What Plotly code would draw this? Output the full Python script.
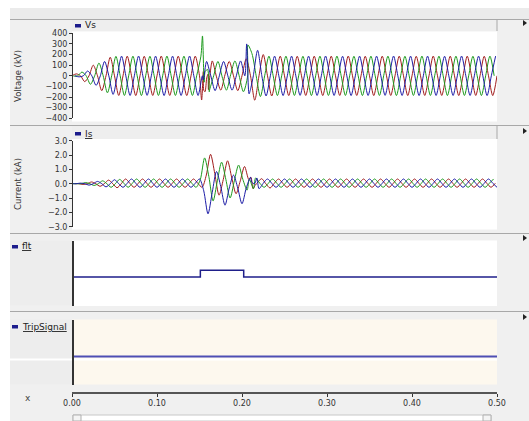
import numpy as np
import plotly.graph_objects as go

W, H = 529, 421

# ---------------- data ----------------
STEP = 0.005          # sample spacing (s), quarter period of 50 Hz
T0_VS = {"red": 0.0, "green": 0.001667, "blue": 0.003333}
T0_IS = {"red": 0.003, "green": 0.001, "blue": 0.0}

vs_red = [
    0, 18, 0, -55, 0, 100, 0, -140, 0, 175, 0, -185,
    0, 185, 0, -186, 0, 184, 0, -185, 0, 186, 0, -185, 0, 185, 0, -186,
    0, 185,
    0, -135, 15, 140, -10, -135, 10, 135, 0, -140,
    0, 160, 0, -230, 0, 200, 0, -190,
    0, 185, 0, -186, 0, 184, 0, -185,
    0, 185, 0, -186, 0, 185, 0, -185,
    0, 186, 0, -185, 0, 184, 0, -186,
    0, 185, 0, -185, 0, 185, 0, -186,
    0, 184, 0, -185, 0, 186, 0, -185,
    0, 185, 0, -186, 0, 185, 0, -185,
    0, 184, 0, -186,
    0,
]
vs_green = [
    -3, 0, 35, 0, -80, 0, 120, 0, -160, 0, 183, 0,
    -185, 0, 185, 0, -186, 0, 184, 0, -185, 0, 186, 0, -185, 0, 185, 0,
    -185, 0,
    185, 40, -140, 0, 135, -10, -135, 10, 140, 0,
    -150, 0, 210, 0, -195, 0, 185, 0,
    -186, 0, 185, 0, -185, 0, 184, 0,
    -186, 0, 185, 0, -185, 0, 186, 0,
    -185, 0, 184, 0, -186, 0, 185, 0,
    -185, 0, 185, 0, -186, 0, 184, 0,
    -185, 0, 186, 0, -185, 0, 185, 0,
    -186, 0, 185, 0, -185, 0, 184, 0,
    -186, 0, 185, 0,
]
vs_blue = [
    0, -10, 0, 45, 0, -90, 0, 135, 0, -175, 0, 185,
    0, -185, 0, 186, 0, -184, 0, 185, 0, -186, 0, 185, 0, -185, 0, 186,
    0, -185,
    0, 135, 0, -140, 0, 135, 0, -135, 0, 140,
    0, -170, 0, 240, 0, -190, 0, 185,
    0, -186, 0, 185, 0, -184, 0, 185,
    0, -185, 0, 186, 0, -185, 0, 184,
    0, -186, 0, 185, 0, -185, 0, 185,
    0, -184, 0, 186, 0, -185, 0, 185,
    0, -186, 0, 185, 0, -185, 0, 184,
    0, -185, 0, 186, 0, -185, 0, 185,
    0, -186, 0, 185,
]
# switching spikes / fault noise (time s, kV)
vs_spike_t = {
    "red": [0.1525, 0.1545, 0.1565, 0.1585, 0.1605, 0.1625],
    "green": [0.1535, 0.1555, 0.1595, 0.1615, 0.207],
    "blue": [0.1545, 0.1625, 0.2055, 0.2105],
}
vs_spike_v = {
    "red": [-228, 40, -150, -20, -130, 20],
    "green": [375, -60, 60, -150, 290],
    "blue": [-40, 20, 300, -110],
}

is_red = [
    0.0, 0, -0.05, 0, 0.12, 0, -0.18, 0, 0.25, 0, -0.28, 0,
    0.33, 0.03, -0.25, 0.03, 0.33, 0.03, -0.25, 0.03,
    0.33, 0.03, -0.25, 0.03, 0.33, 0.03, -0.25, 0.03,
    0.33, 0.03,
    -0.25, 0.6, 2.05, 0.7, -0.8, 0.3, 1.6, 0.4, -0.7, 0.2,
    1.2, 0.3, -0.35, 0.05, 0.35, 0.0, -0.3, 0.03,
    0.33, 0.03, -0.25, 0.03, 0.33, 0.03, -0.25, 0.03,
    0.33, 0.03, -0.25, 0.03, 0.33, 0.03, -0.25, 0.03,
    0.33, 0.03, -0.25, 0.03, 0.33, 0.03, -0.25, 0.03,
    0.33, 0.03, -0.25, 0.03, 0.33, 0.03, -0.25, 0.03,
    0.33, 0.03, -0.25, 0.03, 0.33, 0.03, -0.25, 0.03,
    0.33, 0.03, -0.25, 0.03, 0.33, 0.03, -0.25, 0.03,
    0.33, 0.03, -0.25, 0.03,
]
is_green = [
    0, 0.0, 0, 0.08, 0, -0.12, 0, 0.2, 0, -0.25, 0, 0.3,
    0.03, -0.25, 0.03, 0.33, 0.03, -0.25, 0.03, 0.33,
    0.03, -0.25, 0.03, 0.33, 0.03, -0.25, 0.03, 0.33,
    0.03, -0.25,
    0.3, 1.8, 0.5, -1.2, 0.2, 1.5, 0.3, -1.0, 0.2, 1.3,
    0.3, -0.45, 0.0, 0.4, 0.03, -0.25, 0.03, 0.33,
    0.03, -0.25, 0.03, 0.33, 0.03, -0.25, 0.03, 0.33,
    0.03, -0.25, 0.03, 0.33, 0.03, -0.25, 0.03, 0.33,
    0.03, -0.25, 0.03, 0.33, 0.03, -0.25, 0.03, 0.33,
    0.03, -0.25, 0.03, 0.33, 0.03, -0.25, 0.03, 0.33,
    0.03, -0.25, 0.03, 0.33, 0.03, -0.25, 0.03, 0.33,
    0.03, -0.25, 0.03, 0.33, 0.03, -0.25, 0.03, 0.33,
    0.03, -0.25, 0.03, 0.33,
]
is_blue = [
    0, 0, 0.04, 0, -0.1, 0, 0.16, 0, -0.22, 0, 0.28, 0,
    -0.25, 0.03, 0.33, 0.03, -0.25, 0.03, 0.33, 0.03,
    -0.25, 0.03, 0.33, 0.03, -0.25, 0.03, 0.33, 0.03,
    -0.25, 0.03,
    0.33, -0.5, -2.1, -0.6, 0.85, -0.2, -1.5, -0.3, 0.6, -0.3,
    -1.4, -0.3, 0.45, 0.0, -0.35, 0.03, 0.33, 0.03,
    -0.25, 0.03, 0.33, 0.03, -0.25, 0.03, 0.33, 0.03,
    -0.25, 0.03, 0.33, 0.03, -0.25, 0.03, 0.33, 0.03,
    -0.25, 0.03, 0.33, 0.03, -0.25, 0.03, 0.33, 0.03,
    -0.25, 0.03, 0.33, 0.03, -0.25, 0.03, 0.33, 0.03,
    -0.25, 0.03, 0.33, 0.03, -0.25, 0.03, 0.33, 0.03,
    -0.25, 0.03, 0.33, 0.03, -0.25, 0.03, 0.33, 0.03,
    -0.25, 0.03, 0.33, 0.03,
    -0.25,
]
# post-clearing current ripple (time s, kA)
is_spike_t = {"red": [0.2105, 0.2155], "green": [0.2085, 0.2135], "blue": [0.2115, 0.2175]}
is_spike_v = {"red": [0.45, -0.1], "green": [0.3, -0.35], "blue": [0.1, 0.4]}

flt_t = [0.0, 0.151, 0.202, 0.5]
flt_v = [0, 1, 0, 0]
trip_t = [0.0, 0.5]
trip_v = [0, 0]

x_ticks = [0.0, 0.1, 0.2, 0.3, 0.4, 0.5]
vs_ticks = [-400, -300, -200, -100, 0, 100, 200, 300, 400]
is_ticks = [-3, -2, -1, 0, 1, 2, 3]

COLORS = {"red": "#A01C1C", "green": "#1E9A1E", "blue": "#1C1CA6"}

# ---------------- helpers ----------------
def px(x):
    return x / W

def py(y):
    return 1 - y / H

def series(t0, vals, spike_t=(), spike_v=()):
    t = list(np.round(t0 + STEP * np.arange(len(vals)), 6))
    pts = sorted(zip(t + list(spike_t), list(vals) + list(spike_v)))
    return [p[0] for p in pts], [p[1] for p in pts]

fig = go.Figure()

for name, vals in (("red", vs_red), ("green", vs_green), ("blue", vs_blue)):
    t, v = series(T0_VS[name], vals, vs_spike_t[name], vs_spike_v[name])
    fig.add_trace(go.Scatter(x=t, y=v, mode="lines", xaxis="x", yaxis="y",
                             line=dict(color=COLORS[name], width=1, shape="spline", smoothing=0.8),
                             hoverinfo="skip"))
for name, vals in (("red", is_red), ("green", is_green), ("blue", is_blue)):
    t, v = series(T0_IS[name], vals, is_spike_t[name], is_spike_v[name])
    fig.add_trace(go.Scatter(x=t, y=v, mode="lines", xaxis="x", yaxis="y2",
                             line=dict(color=COLORS[name], width=1, shape="spline", smoothing=0.8),
                             hoverinfo="skip"))
fig.add_trace(go.Scatter(x=flt_t, y=flt_v, mode="lines", xaxis="x", yaxis="y3",
                         line=dict(color="#1F1F8A", width=1.5, shape="hv"), hoverinfo="skip"))
fig.add_trace(go.Scatter(x=trip_t, y=trip_v, mode="lines", xaxis="x", yaxis="y4",
                         line=dict(color="#4E4EB4", width=1.8, shape="hv"), hoverinfo="skip"))

# ---------------- decoration ----------------
shapes = []
def rect(x0, y0, x1, y1, fill, line=None, lw=1):
    shapes.append(dict(type="rect", xref="paper", yref="paper", layer="below",
                       x0=px(x0), x1=px(x1), y0=py(y1), y1=py(y0),
                       fillcolor=fill, line=dict(width=lw if line else 0, color=line or fill)))

def hline(x0, x1, y, color, lw=1):
    shapes.append(dict(type="line", xref="paper", yref="paper", layer="below",
                       x0=px(x0), x1=px(x1), y0=py(y), y1=py(y), line=dict(color=color, width=lw)))

def vline(x, y0, y1, color, lw=1):
    shapes.append(dict(type="line", xref="paper", yref="paper", layer="below",
                       x0=px(x), x1=px(x), y0=py(y0), y1=py(y1), line=dict(color=color, width=lw)))

def tri(x, y):
    shapes.append(dict(type="path", xref="paper", yref="paper", layer="above",
                       path=f"M {px(x)} {py(y-3)} L {px(x+4)} {py(y)} L {px(x)} {py(y+3)} Z",
                       fillcolor="#222", line=dict(width=0)))

GRAY = "#F0F0F0"
rect(10, 8, 529, 421, GRAY)
rect(10, 8, 529, 19, "#EBEBEB")
hline(10, 529, 19.5, "#A8A8A8")
# panel 1
rect(72, 20, 497, 31, "#EEEEEE")
vline(497, 20, 31, "#A8A8A8")
rect(72, 31.5, 497, 121.5, "white")
hline(10, 529, 125.5, "#A8A8A8")
# panel 2
rect(72, 126, 497, 139, "#EEEEEE")
vline(497, 126, 139, "#A8A8A8")
rect(72, 139, 497, 229.5, "white")
hline(10, 529, 233.5, "#A8A8A8")
# panel 3
rect(10, 240.5, 72, 305.5, "#EDEDED")
rect(72, 240.5, 497, 306, "white")
hline(10, 529, 311.5, "#A8A8A8")
# panel 4
rect(10, 319.5, 72, 384.5, "#EDEDED")
rect(72, 319.5, 497, 384.5, "#FDF8EE")
hline(10, 497, 359.5, "white", 2)
# scrollbar
rect(73, 415, 491, 421, "white", "#C8C8C8")
rect(73, 415, 81, 421, "#F4F4F4", "#B0B0B0")
rect(483, 415, 491, 421, "#F4F4F4", "#B0B0B0")

for ty in (23, 131, 238, 317):
    tri(523, ty)

# legend markers
LEG = "#1C1C8C"
for (x0, y0) in ((75, 24), (75, 132), (12, 245), (12, 325)):
    shapes.append(dict(type="rect", xref="paper", yref="paper", layer="above",
                       x0=px(x0), x1=px(x0 + 6), y0=py(y0 + 3.5), y1=py(y0),
                       fillcolor=LEG, line=dict(width=0)))

FONT = "DejaVu Sans, Liberation Sans, sans-serif"
ann = []
def label(x, y, text, size=9, xanchor="left", angle=0, color="#222"):
    ann.append(dict(x=px(x), y=py(y), xref="paper", yref="paper", text=text, showarrow=False,
                    xanchor=xanchor, yanchor="middle", textangle=angle,
                    font=dict(family=FONT, size=size, color=color)))

label(83, 25.5, "Vs", 9)
label(83, 133.5, "<u>Is</u>", 9)
label(20, 246.5, "<u>flt</u>", 9)
label(20, 326.5, "<u>TripSignal</u>", 9)
label(18, 76, "Voltage (kV)", 8.5, "center", -90, "#333")
label(18, 184, "Current (kA)", 8.5, "center", -90, "#333")
label(28, 397.5, "x", 9, "center", 0, "#444")

AX = dict(showgrid=False, zeroline=False, showline=True, linecolor="#333", linewidth=1,
          ticks="outside", ticklen=3, tickcolor="#333",
          tickfont=dict(family=FONT, size=8, color="#333"))

fig.update_layout(
    width=W, height=H, autosize=False,
    margin=dict(l=0, r=0, t=0, b=0, pad=0),
    paper_bgcolor="white", plot_bgcolor="rgba(0,0,0,0)",
    showlegend=False,
    shapes=shapes, annotations=ann,
    xaxis=dict(domain=[px(72), px(497)], range=[0, 0.5], anchor="free", position=py(392.5),
               tickvals=x_ticks, tickformat=".2f", automargin=False,
               **{**AX, "linecolor": "#555", "linewidth": 2}),
    yaxis=dict(domain=[py(118.3), py(33.3)], range=[-400, 400], anchor="free", position=px(72),
               tickvals=vs_ticks, automargin=False, **AX),
    yaxis2=dict(domain=[py(226.7), py(140.7)], range=[-3, 3], anchor="free", position=px(72),
                tickvals=is_ticks, tickformat=".1f", automargin=False, **AX),
    yaxis3=dict(domain=[py(306), py(240.5)], range=[-(306 - 277) / 6.7, (277 - 240.5) / 6.7],
                anchor="free", position=px(72.5), automargin=False,
                **{**AX, "ticks": "", "showticklabels": False, "linewidth": 1.5}),
    yaxis4=dict(domain=[py(384.5), py(319.5)], range=[-(384.5 - 356.5) / 10, (356.5 - 319.5) / 10],
                anchor="free", position=px(72.5), automargin=False,
                **{**AX, "ticks": "", "showticklabels": False, "linewidth": 1.5}),
)

fig.write_html(
    "out.html",
    config={"displayModeBar": False, "responsive": False},
    post_script="document.body.style.margin='0';document.body.style.padding='0';"
                "document.body.style.overflow='hidden';"
                "document.documentElement.style.overflow='hidden';",
)
